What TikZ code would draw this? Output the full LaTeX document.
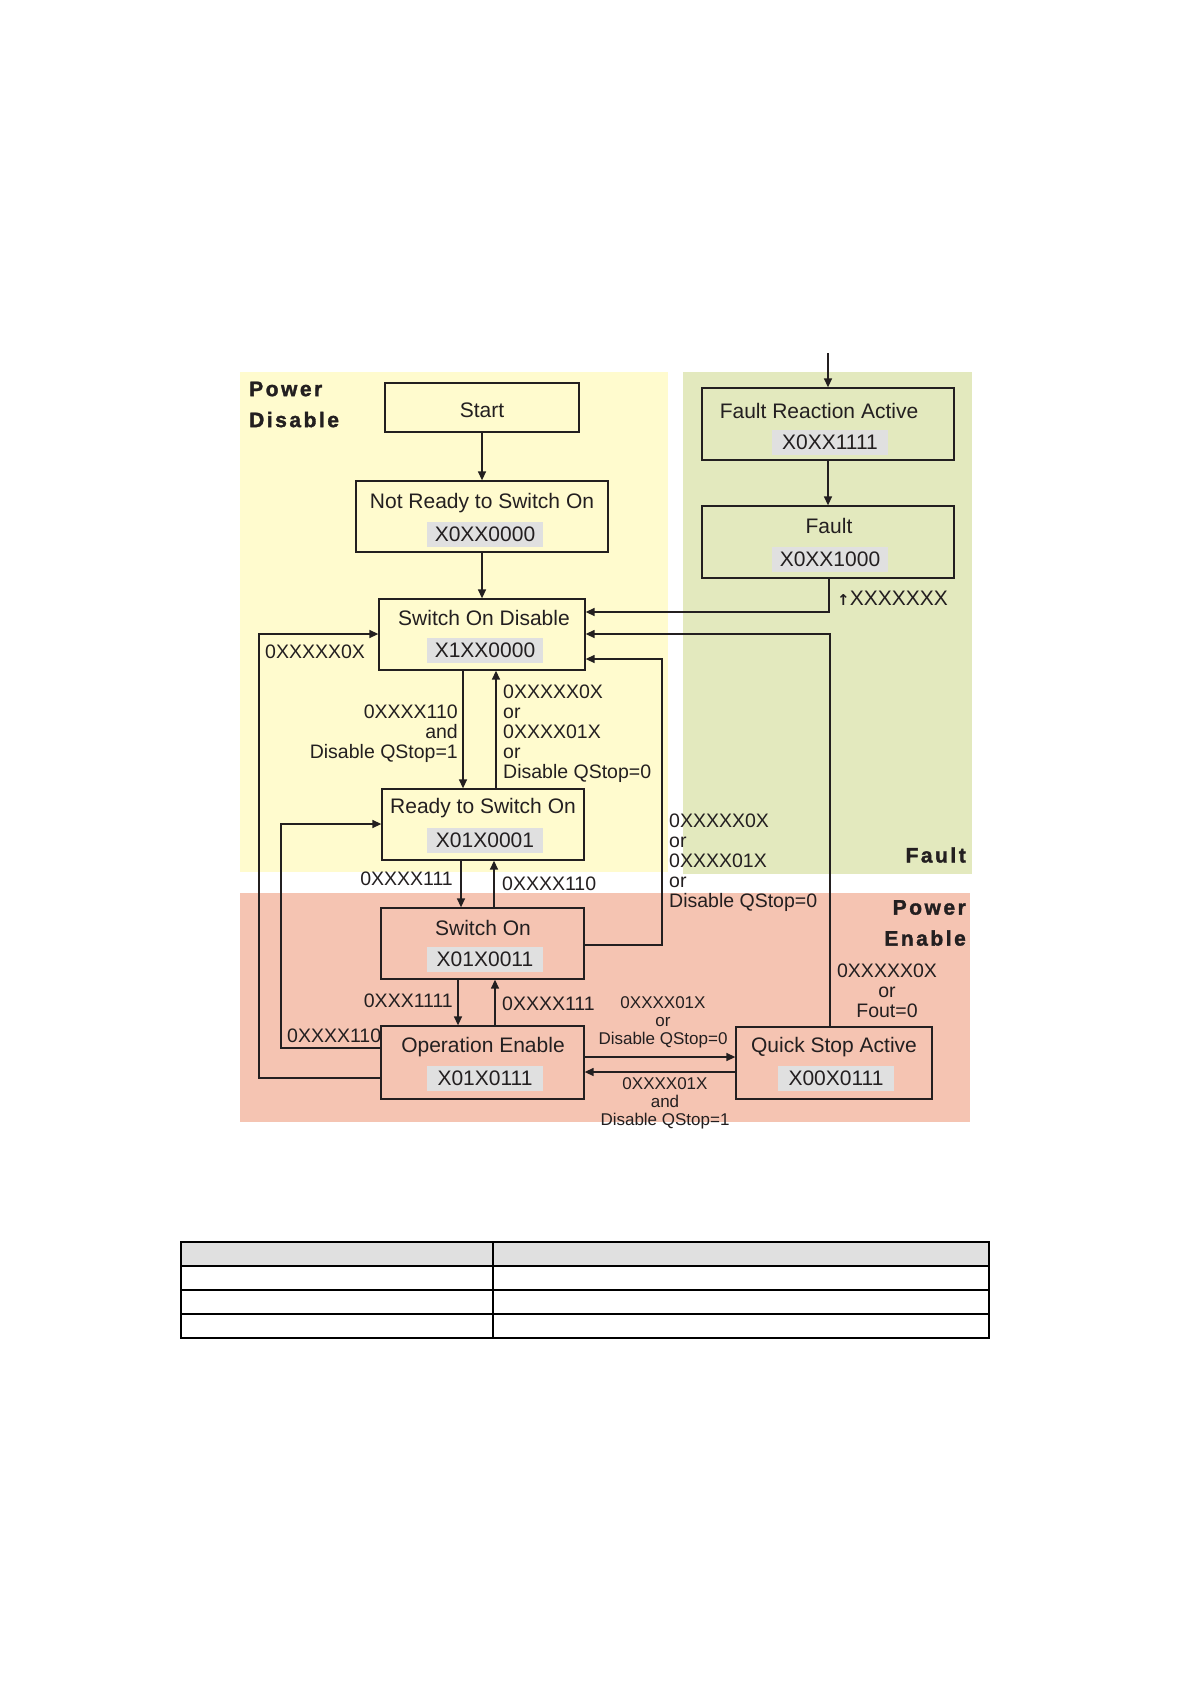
\documentclass[tikz,border=0pt]{standalone}
\usepackage{fontspec}
\setmainfont{Liberation Sans}
\newfontfamily\dejavu{DejaVu Sans Bold}
\newfontfamily\regionfont[LetterSpace=12,FakeBold=1.6]{Liberation Sans Bold}
\usetikzlibrary{arrows.meta}
\definecolor{pdyellow}{RGB}{255,251,206}
\definecolor{fgreen}{RGB}{227,233,190}
\definecolor{pesalmon}{RGB}{245,196,178}
\definecolor{codegray}{RGB}{224,224,224}
\definecolor{ink}{RGB}{35,31,32}
\tikzset{
  statebox/.style={draw=ink, line width=1.3pt, inner sep=0pt},
  ttl/.style={inner sep=0pt, text=ink, font=\fontsize{21}{24}\selectfont},
  code/.style={fill=codegray, inner sep=0pt, minimum width=116pt, minimum height=25pt, text=ink, font=\fontsize{21}{24}\selectfont},
  lbl/.style={inner sep=0pt, text=ink, font=\fontsize{19.5}{20}\selectfont},
  slbl/.style={inner sep=0pt, text=ink, align=center, font=\fontsize{17}{18}\selectfont},
  region/.style={inner sep=0pt, text=ink, font=\regionfont\fontsize{21}{31}\selectfont},
  arr/.style={draw=ink, line width=1.4pt, -{Triangle[length=9pt,width=8pt]}},
}
\begin{document}
\begin{tikzpicture}[x=1pt,y=-1pt]
\useasboundingbox (0,0) rectangle (1191,1684);
\fill[white] (0,0) rectangle (1191,1684);
% regions
\fill[pdyellow] (240,372) rectangle (668,872);
\fill[fgreen] (683,372) rectangle (972,874);
\fill[pesalmon] (240,893) rectangle (970,1122);
\node[region, anchor=west, align=left] (rpd) at (249,404.5) {Power\\Disable};
\node[region, anchor=east] (rf) at (966,855) {Fault};
\node[region, anchor=east, align=right] (rpe) at (966,923) {Power\\Enable};

% states
\node[statebox, minimum width=194pt, minimum height=49pt] (start) at (482,407.5) {};
\node[ttl] (startt) at (482,410) {Start};

\node[statebox, minimum width=252pt, minimum height=71pt] (nr) at (482,516.5) {};
\node[ttl] (nrt) at (482,503) {Not Ready to Switch On};
\node[code] (nrc) at (485,534) {X0XX0000};

\node[statebox, minimum width=206pt, minimum height=71pt] (sod) at (482,634.5) {};
\node[ttl] (sodt) at (484,618) {Switch On Disable};
\node[code] (sodc) at (485,650) {X1XX0000};

\node[statebox, minimum width=202pt, minimum height=71pt] (rso) at (483,824.5) {};
\node[ttl] (rsot) at (483,808) {Ready to Switch On};
\node[code] (rsoc) at (485,840) {X01X0001};

\node[statebox, minimum width=203pt, minimum height=71pt] (son) at (482.5,943.5) {};
\node[ttl] (sont) at (483,928) {Switch On};
\node[code] (sonc) at (485,959) {X01X0011};

\node[statebox, minimum width=203pt, minimum height=73pt] (oe) at (482.5,1062.5) {};
\node[ttl] (oet) at (483,1047) {Operation Enable};
\node[code] (oec) at (485,1078) {X01X0111};

\node[statebox, minimum width=196pt, minimum height=72pt] (qsa) at (834,1063) {};
\node[ttl] (qsat) at (834,1047) {Quick Stop Active};
\node[code] (qsac) at (836,1078.5) {X00X0111};

\node[statebox, minimum width=252pt, minimum height=72pt] (fra) at (828,424) {};
\node[ttl] (frat) at (819,411) {Fault Reaction Active};
\node[code] (frac) at (830,442.5) {X0XX1111};

\node[statebox, minimum width=252pt, minimum height=72pt] (fault) at (828,542) {};
\node[ttl] (faultt) at (829,526) {Fault};
\node[code] (faultc) at (830,559) {X0XX1000};

% helper coordinates
\coordinate (topin) at (828,353);
\coordinate (v463) at (463,0);
\coordinate (v496) at (496,0);
\coordinate (v461) at (461,0);
\coordinate (v494) at (494,0);
\coordinate (v458) at (458,0);
\coordinate (v495) at (495,0);
\coordinate (f1) at (829,612);
\coordinate (q1) at (830,634);
\coordinate (s1) at (662,945);
\coordinate (s2) at (662,659);
\coordinate (o1) at (281,1048);
\coordinate (o2) at (281,824);
\coordinate (p1) at (259,1078);
\coordinate (p2) at (259,634);
\coordinate (h1) at (0,1057);
\coordinate (h2) at (0,1072);

% connectors
\draw[arr] (topin) -- (fra);
\draw[arr] (start) -- (nr);
\draw[arr] (nr) -- (sod);
\draw[arr] (fra) -- (fault);
\draw[arr] (fault.south -| f1) |- (sod.east |- f1);
\draw[arr] (qsa.north -| q1) |- (sod.east |- q1);
\draw[arr] (son.east |- s1) -- (s1) -- (s2) -- (sod.east |- s2);
\draw[arr] (sod.south -| v463) -- (rso.north -| v463);
\draw[arr] (rso.north -| v496) -- (sod.south -| v496);
\draw[arr] (rso.south -| v461) -- (son.north -| v461);
\draw[arr] (son.north -| v494) -- (rso.south -| v494);
\draw[arr] (son.south -| v458) -- (oe.north -| v458);
\draw[arr] (oe.north -| v495) -- (son.south -| v495);
\draw[arr] (oe.west |- o1) -- (o1) -- (o2) -- (rso.west |- o2);
\draw[arr] (oe.west |- p1) -- (p1) -- (p2) -- (sod.west |- p2);
\draw[arr] (oe.east |- h1) -- (qsa.west |- h1);
\draw[arr] (qsa.west |- h2) -- (oe.east |- h2);

% labels
\node[ttl, anchor=west] (lfault) at (837,598) {{\dejavu\fontsize{15}{15}\selectfont ↑}XXXXXXX};
\node[lbl, anchor=west] (l1) at (265,652) {0XXXXX0X};
\node[lbl, anchor=east, align=right] (l2) at (458,734) {0XXXX110\\and\\Disable QStop=1};
\node[lbl, anchor=west, align=left] (l3) at (503,734) {0XXXXX0X\\or\\0XXXX01X\\or\\Disable QStop=0};
\node[lbl, anchor=east] (l4) at (453,879) {0XXXX111};
\node[lbl, anchor=west] (l5) at (502,884) {0XXXX110};
\node[lbl, anchor=west, align=left] (l6) at (669,863) {0XXXXX0X\\or\\0XXXX01X\\or\\Disable QStop=0};
\node[lbl, anchor=east] (l7) at (453,1001) {0XXX1111};
\node[lbl, anchor=west] (l8) at (502,1004) {0XXXX111};
\node[lbl, anchor=west] (l9) at (287,1036) {0XXXX110};
\node[lbl, align=center] (l10) at (887,991) {0XXXXX0X\\or\\Fout=0};
\node[slbl] (l11) at (663,1022) {0XXXX01X\\or\\Disable QStop=0};
\node[slbl] (l12) at (665,1103) {0XXXX01X\\and\\Disable QStop=1};

% empty table
\fill[codegray] (181,1242) rectangle (989,1266);
\draw[line width=2pt, black] (181,1242) rectangle (989,1338);
\draw[line width=2pt, black] (181,1266) -- (989,1266);
\draw[line width=2pt, black] (181,1290) -- (989,1290);
\draw[line width=2pt, black] (181,1314) -- (989,1314);
\draw[line width=2pt, black] (493,1242) -- (493,1338);
\end{tikzpicture}
\end{document}
